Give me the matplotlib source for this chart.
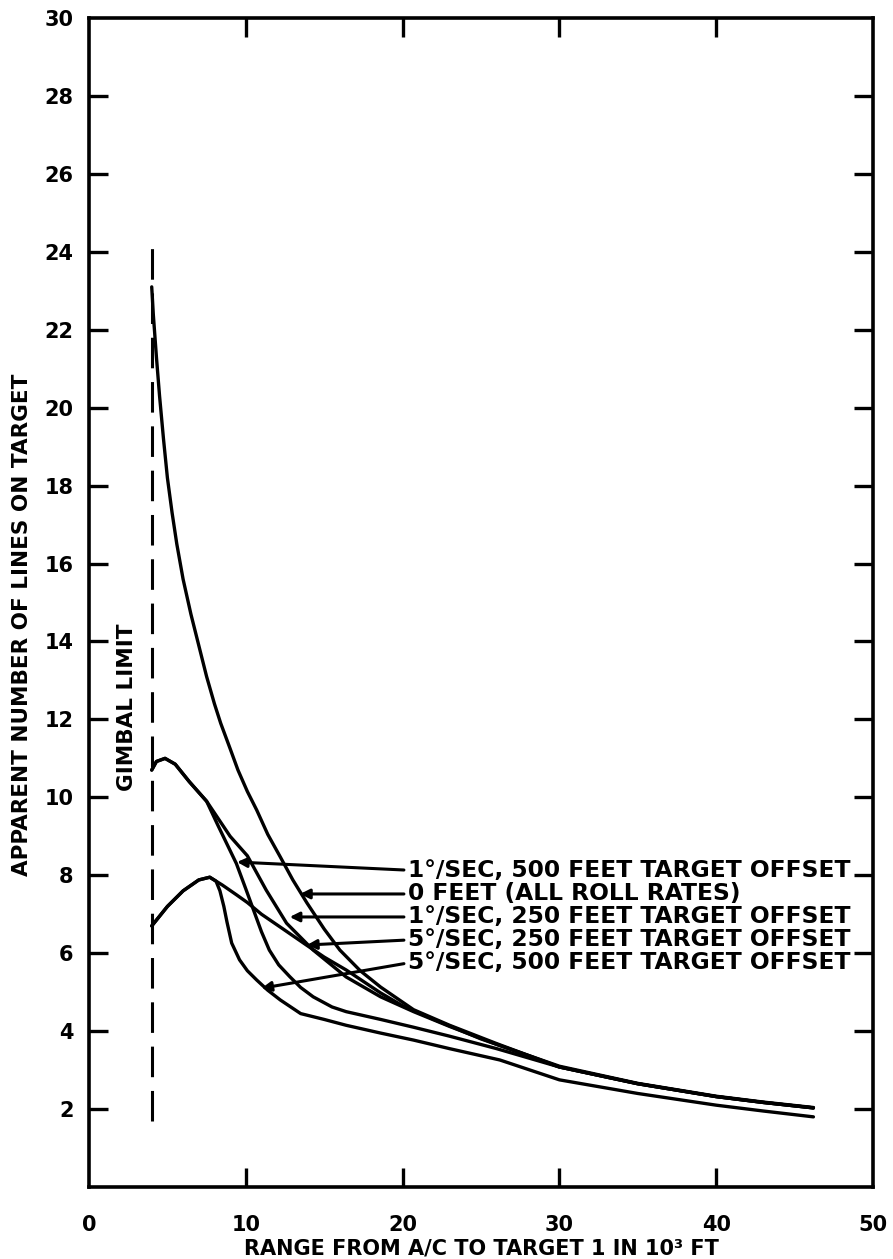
import matplotlib
matplotlib.use("Agg")
import matplotlib.pyplot as plt

# ---- data ----
x_zero = [4.0, 4.1, 4.3, 4.5, 4.75, 5.0, 5.3, 5.6, 6.0, 6.5, 7.0, 7.5, 8.0, 8.4, 9.0, 9.5,
          10.1, 10.7, 11.4, 12.2, 13.0, 13.9, 15.0, 16.0, 17.3, 18.6, 20.7, 23.0, 26.0,
          30.0, 35.0, 40.0, 43.0, 46.2]
y_zero = [23.1, 22.4, 21.3, 20.3, 19.2, 18.2, 17.3, 16.5, 15.6, 14.7, 13.9, 13.1, 12.4,
          11.9, 11.25, 10.7, 10.15, 9.67, 9.05, 8.47, 7.88, 7.29, 6.62, 6.08, 5.55, 5.13,
          4.55, 4.15, 3.68, 3.08, 2.65, 2.32, 2.17, 2.03]

x_1d500 = [4.0, 4.3, 4.85, 5.5, 6.4, 7.5, 8.2, 8.8, 9.4, 10.0, 10.5, 11.0, 11.5, 12.1,
           12.8, 13.5, 14.3, 15.5, 16.4, 18.6, 20.7, 23.0, 26.0, 30.0, 35.0, 40.0, 43.0, 46.2]
y_1d500 = [10.7, 10.92, 11.0, 10.85, 10.4, 9.9, 9.3, 8.8, 8.3, 7.65, 7.1, 6.55, 6.08, 5.7,
           5.4, 5.12, 4.88, 4.62, 4.5, 4.3, 4.1, 3.87, 3.55, 3.08, 2.65, 2.32, 2.17, 2.03]

x_1d250 = [4.0, 4.3, 4.85, 5.5, 6.4, 7.5, 8.0, 9.0, 10.1, 11.3, 12.6, 14.3, 16.4, 18.6,
           20.7, 23.0, 26.0, 30.0, 35.0, 40.0, 43.0, 46.2]
y_1d250 = [10.7, 10.92, 11.0, 10.85, 10.4, 9.9, 9.6, 9.0, 8.5, 7.62, 6.77, 6.08, 5.39, 4.88,
           4.5, 4.12, 3.66, 3.08, 2.65, 2.32, 2.17, 2.03]

x_5d250 = [4.0, 5.0, 6.0, 7.0, 7.7, 8.5, 9.4, 10.1, 11.0, 12.2, 13.9, 15.0, 16.4, 18.6,
           20.0, 22.0, 25.0, 30.0, 35.0, 40.0, 43.0, 46.2]
y_5d250 = [6.7, 7.2, 7.6, 7.88, 7.95, 7.75, 7.5, 7.3, 7.0, 6.67, 6.2, 5.9, 5.57, 4.98,
           4.65, 4.3, 3.8, 3.1, 2.66, 2.33, 2.18, 2.04]

x_5d500 = [4.0, 5.0, 6.0, 7.0, 7.7, 8.1, 8.35, 8.6, 8.8, 9.1, 9.6, 10.1, 10.7, 11.4, 12.2,
           13.5, 15.0, 16.4, 18.6, 20.7, 23.0, 26.2, 30.0, 35.0, 40.0, 43.0, 46.2]
y_5d500 = [6.7, 7.2, 7.6, 7.88, 7.95, 7.85, 7.6, 7.2, 6.8, 6.26, 5.83, 5.55, 5.31, 5.05,
           4.8, 4.45, 4.3, 4.15, 3.95, 3.77, 3.55, 3.26, 2.75, 2.4, 2.1, 1.95, 1.8]

gimbal_x = 4.0
gimbal_y = [1.7, 24.3]

labels = ["1°/SEC, 500 FEET TARGET OFFSET",
          "0 FEET (ALL ROLL RATES)",
          "1°/SEC, 250 FEET TARGET OFFSET",
          "5°/SEC, 250 FEET TARGET OFFSET",
          "5°/SEC, 500 FEET TARGET OFFSET"]
label_y = [8.13, 7.52, 6.93, 6.34, 5.75]
arrow_tip_x = [9.44, 13.46, 12.8, 13.9, 11.0]
arrow_tip_y = [8.34, 7.52, 6.93, 6.21, 5.1]

xticks = [0, 10, 20, 30, 40, 50]
yticks = list(range(2, 31, 2))

# ---- figure ----
plt.rcParams['font.family'] = ['DejaVu Sans']
plt.rcParams['font.weight'] = 'bold'
fig = plt.figure(figsize=(8.93, 12.59), dpi=100)
ax = fig.add_axes([89/893, 1 - 1187/1259, (873-89)/893, (1187-18)/1259])

lw = 2.4
for xs, ys in [(x_zero, y_zero), (x_1d500, y_1d500), (x_1d250, y_1d250),
               (x_5d250, y_5d250), (x_5d500, y_5d500)]:
    ax.plot(xs, ys, color='black', lw=lw, solid_capstyle='round', solid_joinstyle='round')

ax.plot([gimbal_x, gimbal_x], gimbal_y, color='black', lw=2.2, linestyle=(0, (10, 4.5)))
ax.text(2.45, 12.3, "GIMBAL LIMIT", rotation=90, ha='center', va='center',
        fontsize=15.5, fontweight='bold')

for t, ly, tx, ty in zip(labels, label_y, arrow_tip_x, arrow_tip_y):
    ax.annotate(t, xy=(tx, ty), xytext=(20.35, ly), ha='left', va='center',
                fontsize=16.8, fontweight='bold',
                arrowprops=dict(arrowstyle='-|>', color='black', lw=2.2,
                                mutation_scale=14, shrinkA=1, shrinkB=0,
                                relpos=(0, 0.5)))

ax.set_xlim(0, 50)
ax.set_ylim(0, 30)
ax.set_xticks(xticks)
ax.set_yticks(yticks)
ax.set_xticklabels([str(v) for v in xticks])
ax.set_yticklabels([str(v) for v in yticks])
ax.tick_params(direction='in', length=14, width=2.4, top=True, right=True, labelsize=15)
ax.tick_params(axis='x', pad=20)
ax.tick_params(axis='y', pad=11)
# ticks at the corners coincide with the frame
for tk in (ax.xaxis.get_major_ticks()[0], ax.xaxis.get_major_ticks()[-1],
           ax.yaxis.get_major_ticks()[-1]):
    tk.tick1line.set_visible(False)
    tk.tick2line.set_visible(False)
for s in ax.spines.values():
    s.set_linewidth(2.6)

ax.set_xlabel("RANGE FROM A/C TO TARGET 1 IN 10³ FT", fontsize=15, fontweight='bold')
ax.xaxis.set_label_coords(0.5, -(1239 - 1187) / 1169)
ax.set_ylabel("APPARENT NUMBER OF LINES ON TARGET", fontsize=15.5, fontweight='bold')
ax.yaxis.set_label_coords(-(89 - 32) / 784, (1187 - 625) / 1169)

fig.savefig("out.png", dpi=100)
